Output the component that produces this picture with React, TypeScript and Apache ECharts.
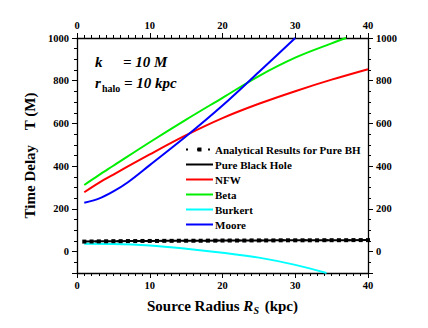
import React, { useEffect, useRef } from "react";
import * as echarts from "echarts";

// ---- data ----
const radiusNFW = [1, 3, 5, 10, 15, 20, 25, 30, 35, 40];
const timeNFW = [278, 322, 361, 455, 545, 625, 692, 751, 805, 854];

const radiusBeta = [1, 3, 5, 10, 15, 20, 25, 30, 35, 37];
const timeBeta = [312, 358, 402, 512, 618, 720, 822, 908, 975, 1000];

const radiusMoore = [1, 3, 5, 7, 10, 15, 20, 25, 30];
const timeMoore = [229, 248, 282, 325, 405, 540, 684, 841, 1000];

const radiusBurkert = [1, 5, 10, 15, 20, 25, 30, 34.3];
const timeBurkert = [37, 36, 29, 14, -5, -28, -62, -100];

const radiusBH = [1, 5, 10, 15, 20, 25, 30, 35, 40];
const timeBH = [47, 49, 50, 51, 52, 52.5, 53, 53.5, 54];

const radiusAnalytical = [
  1, 2, 3, 4, 5, 6, 7, 8, 9, 10,
  11, 12, 13, 14, 15, 16, 17, 18, 19, 20,
  21, 22, 23, 24, 25, 26, 27, 28, 29, 30,
  31, 32, 33, 34, 35, 36, 37, 38, 39, 40,
];
const timeAnalytical = [
  47, 47.5, 48, 48.5, 49, 49, 49.5, 49.5, 50, 50,
  50, 50.5, 50.5, 51, 51, 51, 51, 51.5, 51.5, 52,
  52, 52, 52, 52.5, 52.5, 52.5, 52.5, 53, 53, 53,
  53, 53, 53, 53.5, 53.5, 53.5, 53.5, 54, 54, 54,
];

const xTicks = [0, 10, 20, 30, 40];
const yTicks = [0, 200, 400, 600, 800, 1000];

const legendNames = [
  "Analytical Results for Pure BH",
  "Pure Black Hole",
  "NFW",
  "Beta",
  "Burkert",
  "Moore",
];

const SERIF = "'Liberation Serif', 'Times New Roman', Times, serif";

const pairs = (xs: number[], ys: number[]) => xs.map((x, i) => [x, ys[i]]);

export default function App() {
  const ref = useRef<HTMLDivElement>(null);

  useEffect(() => {
    if (!ref.current) return;
    const chart = echarts.init(ref.current, null, { renderer: "svg" });

    const labelStyle = {
      fontFamily: SERIF,
      fontWeight: "bold" as const,
      fontSize: 10.5,
      color: "#000",
      formatter: (v: number) => String(v),
    };

    const xAxisBase = {
      type: "value" as const,
      min: xTicks[0],
      max: xTicks[xTicks.length - 1],
      interval: xTicks[1] - xTicks[0],
      axisLine: { show: true, onZero: false, lineStyle: { color: "#000", width: 1.3 } },
      axisTick: { show: true, length: 5, lineStyle: { color: "#000", width: 1 } },
      minorTick: { show: true, splitNumber: 10, length: 3, lineStyle: { color: "#000", width: 1 } },
      splitLine: { show: false },
      axisLabel: { ...labelStyle, margin: 7 },
    };

    const yAxisBase = {
      type: "value" as const,
      min: -100,
      max: yTicks[yTicks.length - 1],
      splitNumber: 5,
      axisLine: { show: true, onZero: false, lineStyle: { color: "#000", width: 1.3 } },
      axisTick: { show: true, length: 5, lineStyle: { color: "#000", width: 1 } },
      minorTick: { show: true, splitNumber: 4, length: 3, lineStyle: { color: "#000", width: 1 } },
      splitLine: { show: false },
      axisLabel: { ...labelStyle, margin: 8, showMinLabel: false },
    };

    const lineSeries = (name: string, xs: number[], ys: number[], color: string) => ({
      name,
      type: "line" as const,
      data: pairs(xs, ys),
      smooth: 0.35,
      symbol: "none",
      lineStyle: { color, width: 2 },
      itemStyle: { color },
      clip: true,
      z: 2,
    });

    const hiddenSymbol = {
      color: "rgba(0,0,0,0)",
      borderColor: "rgba(0,0,0,0)",
      borderWidth: 0,
    };

    chart.setOption({
      animation: false,
      backgroundColor: "#fff",
      grid: { left: 77, right: 60, top: 38, bottom: 55 },
      xAxis: [
        {
          ...xAxisBase,
          position: "bottom",
          name: "Source Radius {i|R}{sub|S} (kpc)",
          nameLocation: "middle",
          nameGap: 24,
          nameTextStyle: {
            fontFamily: SERIF,
            fontWeight: "bold",
            fontSize: 15,
            color: "#000",
            lineHeight: 18,
            rich: {
              i: { fontFamily: SERIF, fontWeight: "bold", fontStyle: "italic", fontSize: 15, lineHeight: 18 },
              sub: {
                fontFamily: SERIF,
                fontWeight: "bold",
                fontStyle: "italic",
                fontSize: 10,
                lineHeight: 10,
                verticalAlign: "bottom",
                padding: [0, 2, 0, 0],
              },
            },
          },
        },
        { ...xAxisBase, position: "top" },
      ],
      yAxis: [
        {
          ...yAxisBase,
          position: "left",
          name: "Time Delay    T (M)",
          nameLocation: "middle",
          nameGap: 32,
          nameTextStyle: { fontFamily: SERIF, fontWeight: "bold", fontSize: 15, color: "#000" },
        },
        { ...yAxisBase, position: "right" },
      ],
      legend: {
        data: legendNames.map((name, i) =>
          i === 0 ? { name } : { name, itemStyle: hiddenSymbol }
        ),
        orient: "vertical",
        left: 185,
        top: 144,
        padding: 0,
        itemWidth: 27,
        itemHeight: 5,
        itemGap: 4,
        selectedMode: false,
        textStyle: {
          fontFamily: SERIF,
          fontWeight: "bold",
          fontSize: 11,
          lineHeight: 11,
          color: "#000",
          padding: [0, 0, 0, -3],
        },
      },
      series: [
        {
          name: legendNames[0],
          type: "line",
          data: pairs(radiusAnalytical, timeAnalytical),
          symbol: "rect",
          symbolSize: 4,
          showSymbol: true,
          lineStyle: { color: "#000", width: 2, type: [2, 9] },
          itemStyle: { color: "#000" },
          z: 5,
        },
        lineSeries(legendNames[1], radiusBH, timeBH, "#000000"),
        lineSeries(legendNames[2], radiusNFW, timeNFW, "#ff0000"),
        lineSeries(legendNames[3], radiusBeta, timeBeta, "#00ee00"),
        lineSeries(legendNames[4], radiusBurkert, timeBurkert, "#00ffff"),
        lineSeries(legendNames[5], radiusMoore, timeMoore, "#0000ff"),
      ],
      graphic: [
        {
          type: "text",
          x: 95,
          y: 62,
          style: {
            text: "k",
            fontFamily: SERIF,
            fontWeight: "bold",
            fontStyle: "italic",
            fontSize: 15,
            fill: "#000",
            verticalAlign: "middle",
          },
        },
        {
          type: "text",
          x: 123,
          y: 62,
          style: {
            text: "= 10 M",
            fontFamily: SERIF,
            fontWeight: "bold",
            fontStyle: "italic",
            fontSize: 15,
            fill: "#000",
            verticalAlign: "middle",
          },
        },
        {
          type: "text",
          x: 95,
          y: 83,
          style: {
            text: "r",
            fontFamily: SERIF,
            fontWeight: "bold",
            fontStyle: "italic",
            fontSize: 15,
            fill: "#000",
            verticalAlign: "middle",
          },
        },
        {
          type: "text",
          x: 102,
          y: 88,
          style: {
            text: "halo",
            fontFamily: SERIF,
            fontWeight: "bold",
            fontSize: 10,
            fill: "#000",
            verticalAlign: "middle",
          },
        },
        {
          type: "text",
          x: 124,
          y: 83,
          style: {
            text: "= 10 kpc",
            fontFamily: SERIF,
            fontWeight: "bold",
            fontStyle: "italic",
            fontSize: 15,
            fill: "#000",
            verticalAlign: "middle",
          },
        },
      ],
    });

    return () => chart.dispose();
  }, []);

  return (
    <div
      ref={ref}
      style={{ position: "fixed", left: 0, top: 0, width: 428, height: 328, background: "#fff" }}
    />
  );
}
